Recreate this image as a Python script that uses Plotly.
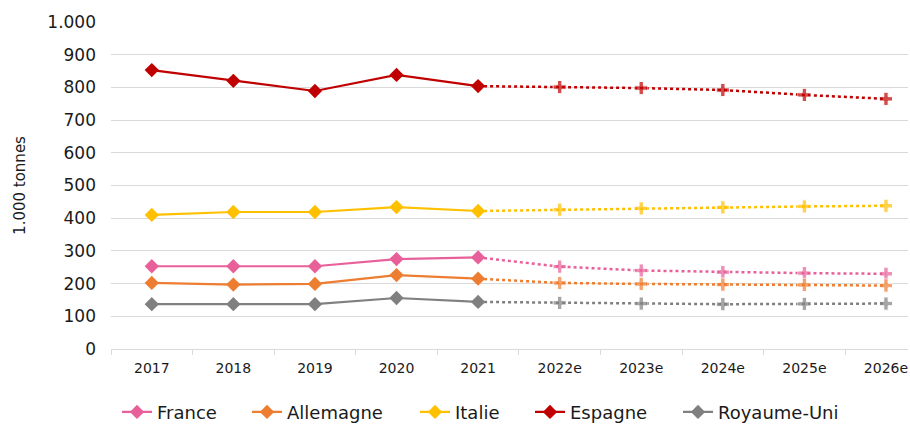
import plotly.graph_objects as go

# Years (e = estimate) and tonnage per country, in thousand tonnes
years = ["2017", "2018", "2019", "2020", "2021", "2022e", "2023e", "2024e", "2025e", "2026e"]
n_actual = 5  # 2017-2021 are observed, the rest are forecasts

france = [253, 253, 253, 275, 280, 252, 240, 235, 232, 230]
allemagne = [202, 197, 199, 226, 215, 202, 199, 197, 196, 194]
italie = [410, 419, 419, 434, 422, 426, 430, 433, 436, 438]
espagne = [853, 820, 789, 838, 804, 801, 798, 792, 777, 765]
royaume_uni = [137, 137, 137, 156, 144, 141, 139, 137, 138, 139]

series = [
    ("France", france, "#E8609A"),
    ("Allemagne", allemagne, "#ED7D31"),
    ("Italie", italie, "#FFC000"),
    ("Espagne", espagne, "#C00000"),
    ("Royaume-Uni", royaume_uni, "#808080"),
]

# left edge (px) of each legend entry along the bottom row
legend_left_px = [117, 247, 415, 530, 678]

FONT = "DejaVu Sans"
W, H = 910, 425
fig = go.Figure()

legend_layouts = {}
for i, ((name, vals, color), left) in enumerate(zip(series, legend_left_px)):
    lg = "legend" if i == 0 else f"legend{i + 1}"
    # observed part: solid line with diamonds
    fig.add_trace(go.Scatter(
        x=years[:n_actual], y=vals[:n_actual], name=name, mode="lines+markers",
        line=dict(color=color, width=2.2),
        marker=dict(symbol="diamond", size=11, color=color),
        legendgroup=name, showlegend=True, legend=lg,
    ))
    # forecast part: dotted line from the last observed year, with plus markers
    fx = years[n_actual - 1:]
    fy = vals[n_actual - 1:]
    fig.add_trace(go.Scatter(
        x=fx, y=fy, mode="lines+markers",
        line=dict(color=color, width=2.5, dash="dot"),
        marker=dict(symbol="cross", size=[0] + [11] * (len(fx) - 1), color=color),
        legendgroup=name, showlegend=False, hoverinfo="skip", legend=lg,
    ))
    legend_layouts[lg] = dict(
        orientation="h", x=left / W, xanchor="left", xref="container",
        y=0.03, yanchor="middle", yref="container",
        font=dict(size=18, family=FONT, color="#1a1a1a"),
        itemwidth=30, bgcolor="rgba(0,0,0,0)",
    )

fig.update_layout(
    width=W, height=H,
    margin=dict(l=111, r=2, t=22, b=76),
    paper_bgcolor="white", plot_bgcolor="white",
    font=dict(family=FONT, color="#1a1a1a"),
    separators=",.",
    showlegend=True,
    xaxis=dict(
        type="category", categoryorder="array", categoryarray=years,
        range=[-0.5, 9.27],
        showgrid=False, showline=True, linecolor="#d9d9d9", linewidth=1,
        ticks="outside", tickson="boundaries", ticklen=5, tickcolor="#d9d9d9",
        ticklabelstandoff=6,
        tickfont=dict(size=14, family=FONT, color="#1a1a1a"),
    ),
    yaxis=dict(
        range=[0, 1000], dtick=100, tick0=0,
        showgrid=True, gridcolor="#d9d9d9", gridwidth=1,
        zeroline=False, showline=False,
        separatethousands=True, tickformat=",d",
        ticklabelstandoff=14,
        tickfont=dict(size=17, family=FONT, color="#1a1a1a"),
        title=dict(text="1.000 tonnes", font=dict(size=15, family=FONT, color="#1a1a1a"), standoff=18),
    ),
    **legend_layouts,
)

fig.write_html("out.html")
